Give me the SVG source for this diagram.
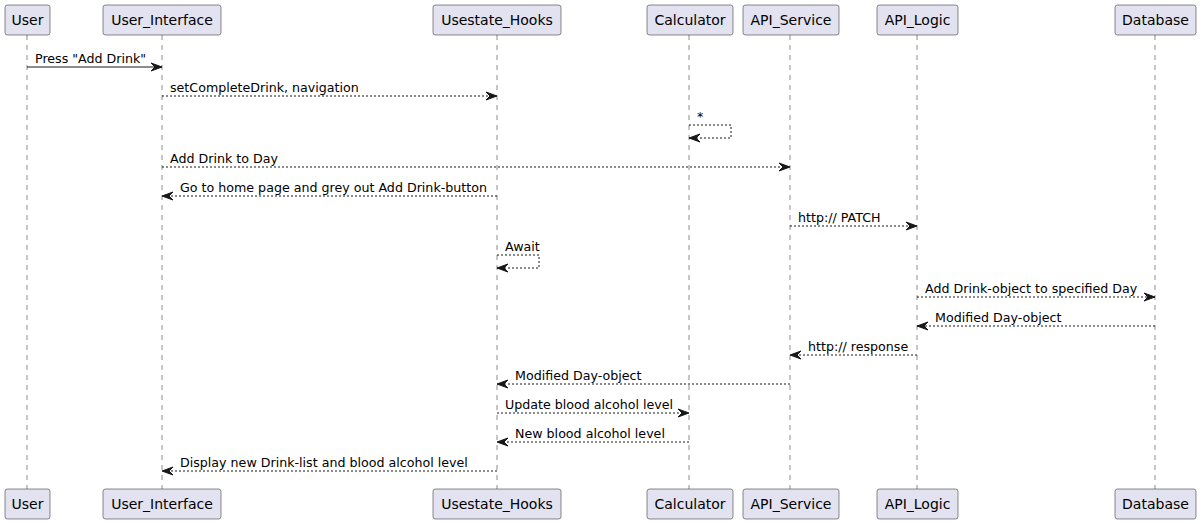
<svg xmlns="http://www.w3.org/2000/svg" width="1201" height="524" viewBox="0 0 1201 524">
<style>
.box{fill:#E2E2F0;stroke:#181818;stroke-width:0.5}
.pt{font-family:"DejaVu Sans",sans-serif;font-size:14px;fill:#000;text-anchor:middle}
.life{stroke:#181818;stroke-width:0.5;stroke-dasharray:5,5;fill:none}
.msg{font-family:"DejaVu Sans",sans-serif;font-size:12.65px;fill:#000}
.solid{stroke:#181818;stroke-width:1;fill:none;marker-end:url(#ah)}
.dash{stroke:#181818;stroke-width:1;fill:none;stroke-dasharray:2,2;marker-end:url(#ah)}
</style>
<defs>
<marker id="ah" viewBox="-2 -2 15 12" refX="11" refY="4" markerWidth="15" markerHeight="12" markerUnits="userSpaceOnUse" orient="auto">
<path d="M0,0 L11,4 L0,8 L4,4 Z" fill="#181818" stroke="#181818" stroke-width="1"/>
</marker>
</defs>
<rect width="1201" height="524" fill="#fff"/>
<g id="lifelines">
<line class="life" x1="27" y1="35" x2="27" y2="489"/>
<line class="life" x1="162" y1="35" x2="162" y2="489"/>
<line class="life" x1="497" y1="35" x2="497" y2="489"/>
<line class="life" x1="689" y1="35" x2="689" y2="489"/>
<line class="life" x1="790" y1="35" x2="790" y2="489"/>
<line class="life" x1="917" y1="35" x2="917" y2="489"/>
<line class="life" x1="1155" y1="35" x2="1155" y2="489"/>
</g>
<g id="User">
<rect class="box" x="5" y="5" width="45" height="30" rx="2.5"/><text class="pt" x="27.5" y="25">User</text>
<rect class="box" x="5" y="489" width="45" height="30" rx="2.5"/><text class="pt" x="27.5" y="509">User</text>
</g>
<g id="User_Interface">
<rect class="box" x="103" y="5" width="118" height="30" rx="2.5"/><text class="pt" x="162" y="25">User_Interface</text>
<rect class="box" x="103" y="489" width="118" height="30" rx="2.5"/><text class="pt" x="162" y="509">User_Interface</text>
</g>
<g id="Usestate_Hooks">
<rect class="box" x="433" y="5" width="128" height="30" rx="2.5"/><text class="pt" x="497" y="25">Usestate_Hooks</text>
<rect class="box" x="433" y="489" width="128" height="30" rx="2.5"/><text class="pt" x="497" y="509">Usestate_Hooks</text>
</g>
<g id="Calculator">
<rect class="box" x="647" y="5" width="86" height="30" rx="2.5"/><text class="pt" x="690" y="25">Calculator</text>
<rect class="box" x="647" y="489" width="86" height="30" rx="2.5"/><text class="pt" x="690" y="509">Calculator</text>
</g>
<g id="API_Service">
<rect class="box" x="743" y="5" width="96" height="30" rx="2.5"/><text class="pt" x="791" y="25">API_Service</text>
<rect class="box" x="743" y="489" width="96" height="30" rx="2.5"/><text class="pt" x="791" y="509">API_Service</text>
</g>
<g id="API_Logic">
<rect class="box" x="877" y="5" width="81" height="30" rx="2.5"/><text class="pt" x="917.5" y="25">API_Logic</text>
<rect class="box" x="877" y="489" width="81" height="30" rx="2.5"/><text class="pt" x="917.5" y="509">API_Logic</text>
</g>
<g id="Database">
<rect class="box" x="1115" y="5" width="81" height="30" rx="2.5"/><text class="pt" x="1155.5" y="25">Database</text>
<rect class="box" x="1115" y="489" width="81" height="30" rx="2.5"/><text class="pt" x="1155.5" y="509">Database</text>
</g>
<g id="connectors">
<line class="solid" x1="27" y1="67" x2="162" y2="67"/>
<text class="msg" x="35" y="62.5">Press "Add Drink"</text>
<line class="dash" x1="162" y1="96" x2="497" y2="96"/>
<text class="msg" x="170" y="91.5">setCompleteDrink, navigation</text>
<path class="dash" d="M689,125 H731 V138 H689"/>
<text class="msg" x="697" y="121">*</text>
<line class="dash" x1="162" y1="167" x2="790" y2="167"/>
<text class="msg" x="170" y="162.5">Add Drink to Day</text>
<line class="dash" x1="497" y1="196" x2="162" y2="196"/>
<text class="msg" x="180" y="191.5">Go to home page and grey out Add Drink-button</text>
<line class="dash" x1="790" y1="226" x2="917" y2="226"/>
<text class="msg" x="798" y="221.5">http:// PATCH</text>
<path class="dash" d="M497,255 H539 V268 H497"/>
<text class="msg" x="505" y="250.5">Await</text>
<line class="dash" x1="917" y1="297" x2="1155" y2="297"/>
<text class="msg" x="925" y="292.5">Add Drink-object to specified Day</text>
<line class="dash" x1="1155" y1="326" x2="917" y2="326"/>
<text class="msg" x="935" y="321.5">Modified Day-object</text>
<line class="dash" x1="917" y1="355" x2="790" y2="355"/>
<text class="msg" x="808" y="350.5">http:// response</text>
<line class="dash" x1="790" y1="384" x2="497" y2="384"/>
<text class="msg" x="515" y="379.5">Modified Day-object</text>
<line class="dash" x1="497" y1="413" x2="689" y2="413"/>
<text class="msg" x="505" y="408.5">Update blood alcohol level</text>
<line class="dash" x1="689" y1="442" x2="497" y2="442"/>
<text class="msg" x="515" y="437.5">New blood alcohol level</text>
<line class="dash" x1="497" y1="471" x2="162" y2="471"/>
<text class="msg" x="180" y="466.5">Display new Drink-list and blood alcohol level</text>
</g>
</svg>
